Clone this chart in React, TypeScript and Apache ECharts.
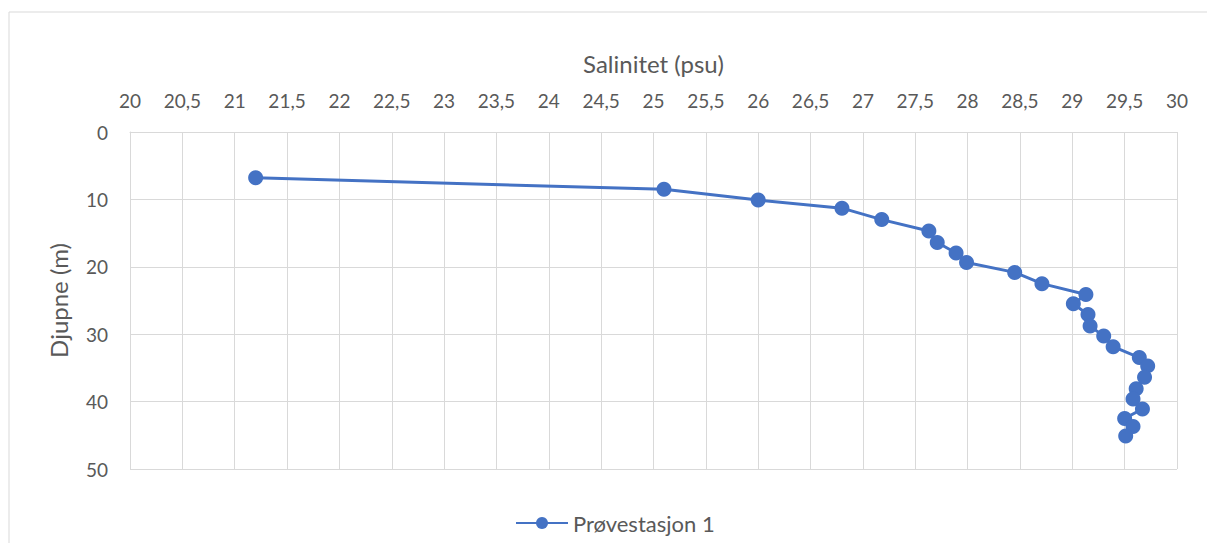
import React, { useEffect, useRef } from "react";
import * as echarts from "echarts";

const seriesName = "Prøvestasjon 1";
const xTitle = "Salinitet (psu)";
const yTitle = "Djupne (m)";

const salinity = [
  21.2, 25.1, 26.0, 26.8, 27.18, 27.63, 27.71, 27.89, 27.99, 28.45, 28.71,
  29.13, 29.01, 29.15, 29.17, 29.3, 29.39, 29.64, 29.72, 29.69, 29.61, 29.58,
  29.67, 29.5, 29.58, 29.51,
];
const depth = [
  6.8, 8.5, 10.1, 11.3, 13.0, 14.7, 16.4, 17.96, 19.35, 20.83, 22.5, 24.12,
  25.5, 27.07, 28.8, 30.28, 31.85, 33.47, 34.7, 36.4, 38.1, 39.6, 41.1, 42.5,
  43.7, 45.1,
];

const FONT = "Lato";
const TEXT = "#595959";
const GRID = "#d9d9d9";
const BLUE = "#4472C4";

export default function App() {
  const ref = useRef<HTMLDivElement>(null);
  useEffect(() => {
    if (!ref.current) return;
    const chart = echarts.init(ref.current, undefined, { renderer: "svg" });
    const data = salinity.map((s, i) => [s, depth[i]]);
    chart.setOption({
      animation: false,
      backgroundColor: "#ffffff",
      textStyle: { fontFamily: FONT, color: TEXT },
      graphic: [
        {
          type: "rect",
          shape: { x: 1, y: 4, width: 1300, height: 700 },
          style: { fill: "none", stroke: GRID, lineWidth: 1 },
          silent: true,
        },
      ],
      grid: { left: 122, top: 124, right: 30, bottom: 74 },
      xAxis: {
        type: "value",
        position: "top",
        min: 20,
        max: 30,
        interval: 0.5,
        name: xTitle,
        nameLocation: "middle",
        nameGap: 57,
        nameTextStyle: { fontFamily: FONT, fontSize: 24, color: TEXT },
        axisLine: { show: true, lineStyle: { color: GRID, width: 1 } },
        axisTick: { show: false },
        axisLabel: {
          margin: 22,
          fontFamily: FONT,
          fontSize: 19,
          color: TEXT,
          formatter: (v: number) => String(v).replace(".", ","),
        },
        splitLine: { show: true, lineStyle: { color: GRID, width: 1 } },
      },
      yAxis: {
        type: "value",
        inverse: true,
        min: 0,
        max: 50,
        interval: 10,
        name: yTitle,
        nameLocation: "middle",
        nameGap: 60,
        nameTextStyle: { fontFamily: FONT, fontSize: 24, color: TEXT },
        axisLine: { show: true, lineStyle: { color: GRID, width: 1 } },
        axisTick: { show: false },
        axisLabel: { margin: 22, fontFamily: FONT, fontSize: 19, color: TEXT },
        splitLine: { show: true, lineStyle: { color: GRID, width: 1 } },
      },
      legend: {
        left: 502,
        top: 499,
        itemWidth: 52,
        itemHeight: 15,
        itemGap: 10,
        textStyle: { fontFamily: FONT, fontSize: 22, color: TEXT },
        data: [seriesName],
      },
      series: [
        {
          name: seriesName,
          type: "line",
          data,
          symbol: "circle",
          symbolSize: 15,
          lineStyle: { color: BLUE, width: 3 },
          itemStyle: { color: BLUE },
        },
      ],
    });
    return () => chart.dispose();
  }, []);
  return <div ref={ref} style={{ width: 1199, height: 535 }} />;
}
